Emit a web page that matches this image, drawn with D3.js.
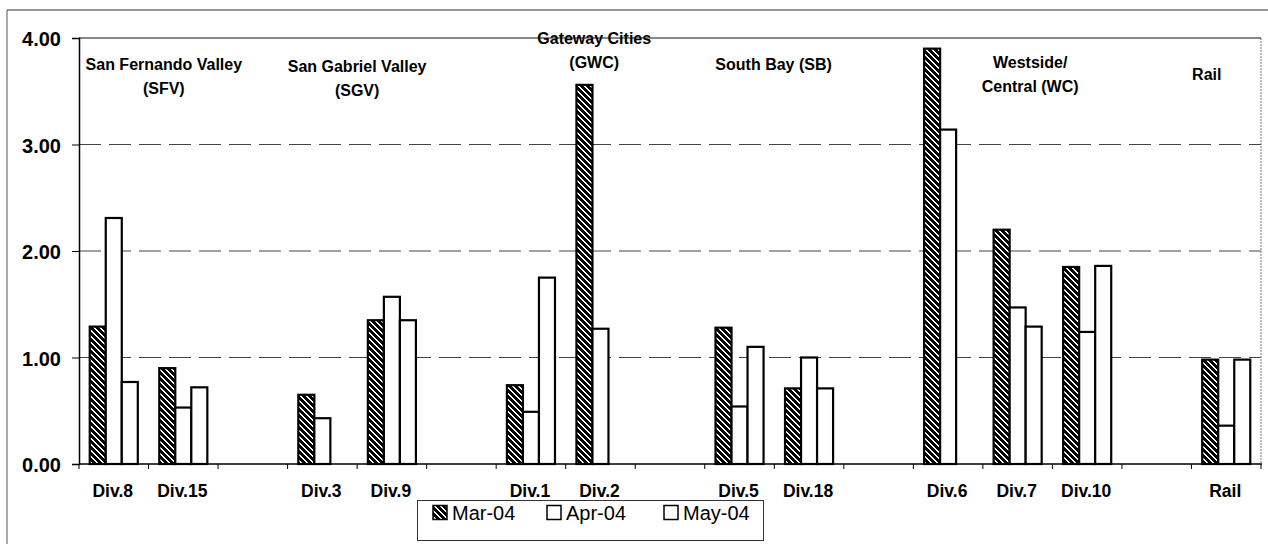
<!DOCTYPE html>
<html>
<head>
<meta charset="utf-8">
<script src="https://cdn.jsdelivr.net/npm/d3@7"></script>
<style>
  html, body { margin: 0; padding: 0; background: #fff; }
  svg { display: block; font-family: "Liberation Sans", Arial, sans-serif; }
</style>
</head>
<body>
<svg id="chart" width="1268" height="544"></svg>
<script>
// Division categories; empty strings are spacer slots between regions
const categories = ["Div.8", "Div.15", "", "Div.3", "Div.9", "", "Div.1", "Div.2", "",
                    "Div.5", "Div.18", "", "Div.6", "Div.7", "Div.10", "", "Rail"];

// Monthly values per division (null = no bar)
const mar04 = [1.29, 0.90, null, 0.65, 1.35, null, 0.74, 3.56, null, 1.28, 0.71, null, 3.90, 2.20, 1.85, null, 0.98];
const apr04 = [2.31, 0.53, null, 0.43, 1.57, null, 0.49, 1.27, null, 0.54, 1.00, null, 3.14, 1.47, 1.24, null, 0.36];
const may04 = [0.77, 0.72, null, null, 1.35, null, 1.75, null, null, 1.10, 0.71, null, null, 1.29, 1.86, null, 0.98];

const seriesNames = ["Mar-04", "Apr-04", "May-04"];
const yTicks = [0, 1, 2, 3, 4];

// Region captions (text lines only)
const regionLines = [
  ["San Fernando Valley", "(SFV)"],
  ["San Gabriel Valley", "(SGV)"],
  ["Gateway Cities", "(GWC)"],
  ["South Bay (SB)"],
  ["Westside/", "Central (WC)"],
  ["Rail"]
];

// ---- layout ----
const plotLeft = 79, plotRight = 1261, plotTop = 38, plotBottom = 464;
const svg = d3.select("#chart");

const idx = d3.range(categories.length);
const x = d3.scaleBand().domain(idx).range([plotLeft, plotRight]).paddingInner(0).paddingOuter(0);
const xs = d3.scaleBand().domain(seriesNames).range([0, x.bandwidth()]).paddingInner(0).paddingOuter(0.67);
const y = d3.scaleLinear().domain([0, 4]).range([plotBottom, plotTop]);
// position along the category axis measured in slot units
const slotPos = d3.scaleLinear().domain([0, categories.length]).range([plotLeft, plotRight]);

// pixel-aligned diagonal hatch for the first series
const defs = svg.append("defs");
const pat = defs.append("pattern")
  .attr("id", "hatch").attr("patternUnits", "userSpaceOnUse")
  .attr("width", 6).attr("height", 6);
pat.append("rect").attr("width", 6).attr("height", 6).attr("fill", "#000");
d3.range(6).forEach(r => {
  [r, (r + 1) % 6].forEach(c => {
    pat.append("rect").attr("x", c).attr("y", r).attr("width", 1).attr("height", 1)
      .attr("fill", "#fff").attr("shape-rendering", "crispEdges");
  });
});

// outer frame (top and left edges visible)
svg.append("line").attr("x1", 7).attr("x2", 1268).attr("y1", 10).attr("y2", 10)
  .attr("stroke", "#333").attr("stroke-width", 1.2);
svg.append("line").attr("x1", 7).attr("x2", 7).attr("y1", 10).attr("y2", 544)
  .attr("stroke", "#555").attr("stroke-width", 1);

// dashed gridlines
svg.append("g").selectAll("line").data(yTicks.filter(t => t > 0 && t < 4)).join("line")
  .attr("x1", plotLeft).attr("x2", plotRight)
  .attr("y1", d => y(d)).attr("y2", d => y(d))
  .attr("stroke", "#444").attr("stroke-width", 1)
  .attr("stroke-dasharray", "22,8");

// right edge of plot area
svg.append("line").attr("x1", plotRight).attr("x2", plotRight).attr("y1", plotTop).attr("y2", plotBottom)
  .attr("stroke", "#777").attr("stroke-width", 1).attr("stroke-dasharray", "2,1");

// region captions
const labelG = svg.append("g").attr("font-size", 16).attr("font-weight", "bold")
  .attr("text-anchor", "middle").attr("fill", "#000");
const regionAt = [1.22, 4.0, 7.41, 9.99, 13.68, 16.22];
const regionBase = [70, 72, 44, 70, 68, 80];
regionLines.forEach((lines, i) => {
  const t = labelG.append("text").attr("x", slotPos(regionAt[i])).attr("y", regionBase[i]);
  lines.forEach((s, j) => {
    t.append("tspan").attr("x", slotPos(regionAt[i])).attr("dy", j === 0 ? 0 : 24).text(s);
  });
});

// plot top border
svg.append("line").attr("x1", plotLeft).attr("x2", plotRight).attr("y1", plotTop).attr("y2", plotTop)
  .attr("stroke", "#111").attr("stroke-width", 1.2);

// bars
const series = [mar04, apr04, may04];
const fills = ["url(#hatch)", "#fff", "#fff"];
const barG = svg.append("g");
series.forEach((vals, s) => {
  barG.append("g").selectAll("rect")
    .data(idx.filter(i => vals[i] != null))
    .join("rect")
    .attr("x", i => x(i) + xs(seriesNames[s]))
    .attr("width", xs.bandwidth())
    .attr("y", i => y(vals[i]))
    .attr("height", i => y(0) - y(vals[i]))
    .attr("fill", fills[s])
    .attr("stroke", "#000").attr("stroke-width", 2.2);
});

// y axis
const yAxis = svg.append("g").attr("transform", `translate(${plotLeft},0)`)
  .call(d3.axisLeft(y).tickValues(yTicks).tickFormat(d3.format(".2f")).tickSize(7).tickPadding(11));
yAxis.select(".domain").attr("stroke", "#000").attr("stroke-width", 1.5);
yAxis.selectAll(".tick line").attr("stroke", "#000");
yAxis.selectAll("text").attr("font-size", 20).attr("font-weight", "bold")
  .attr("font-family", "Liberation Sans, Arial, sans-serif").attr("fill", "#000").attr("dy", "0.38em");

// x axis with ticks at slot boundaries
svg.append("line").attr("x1", plotLeft).attr("x2", plotRight + 1).attr("y1", plotBottom).attr("y2", plotBottom)
  .attr("stroke", "#000").attr("stroke-width", 1.5);
svg.append("g").selectAll("line").data(d3.range(categories.length + 1)).join("line")
  .attr("x1", i => slotPos(i)).attr("x2", i => slotPos(i))
  .attr("y1", plotBottom).attr("y2", plotBottom + 5)
  .attr("stroke", "#000").attr("stroke-width", 1);
svg.append("g").selectAll("text").data(idx.filter(i => categories[i])).join("text")
  .attr("x", i => x(i) + x.bandwidth() / 2 - 1)
  .attr("y", 497)
  .attr("text-anchor", "middle").attr("font-size", 17.5).attr("font-weight", "bold")
  .text(i => categories[i]);

// legend
const lg = svg.append("g");
lg.append("rect").attr("x", 417.5).attr("y", 500.5).attr("width", 346).attr("height", 40)
  .attr("fill", "#fff").attr("stroke", "#333").attr("stroke-width", 1);
const legendX = [433, 547, 664];
seriesNames.forEach((name, i) => {
  lg.append("rect").attr("x", legendX[i]).attr("y", 505.5).attr("width", 14).attr("height", 14)
    .attr("fill", fills[i]).attr("stroke", "#000").attr("stroke-width", 1.5);
  lg.append("text").attr("x", legendX[i] + 19).attr("y", 520)
    .attr("font-size", 20).attr("fill", "#000").text(name);
});
</script>
</body>
</html>
